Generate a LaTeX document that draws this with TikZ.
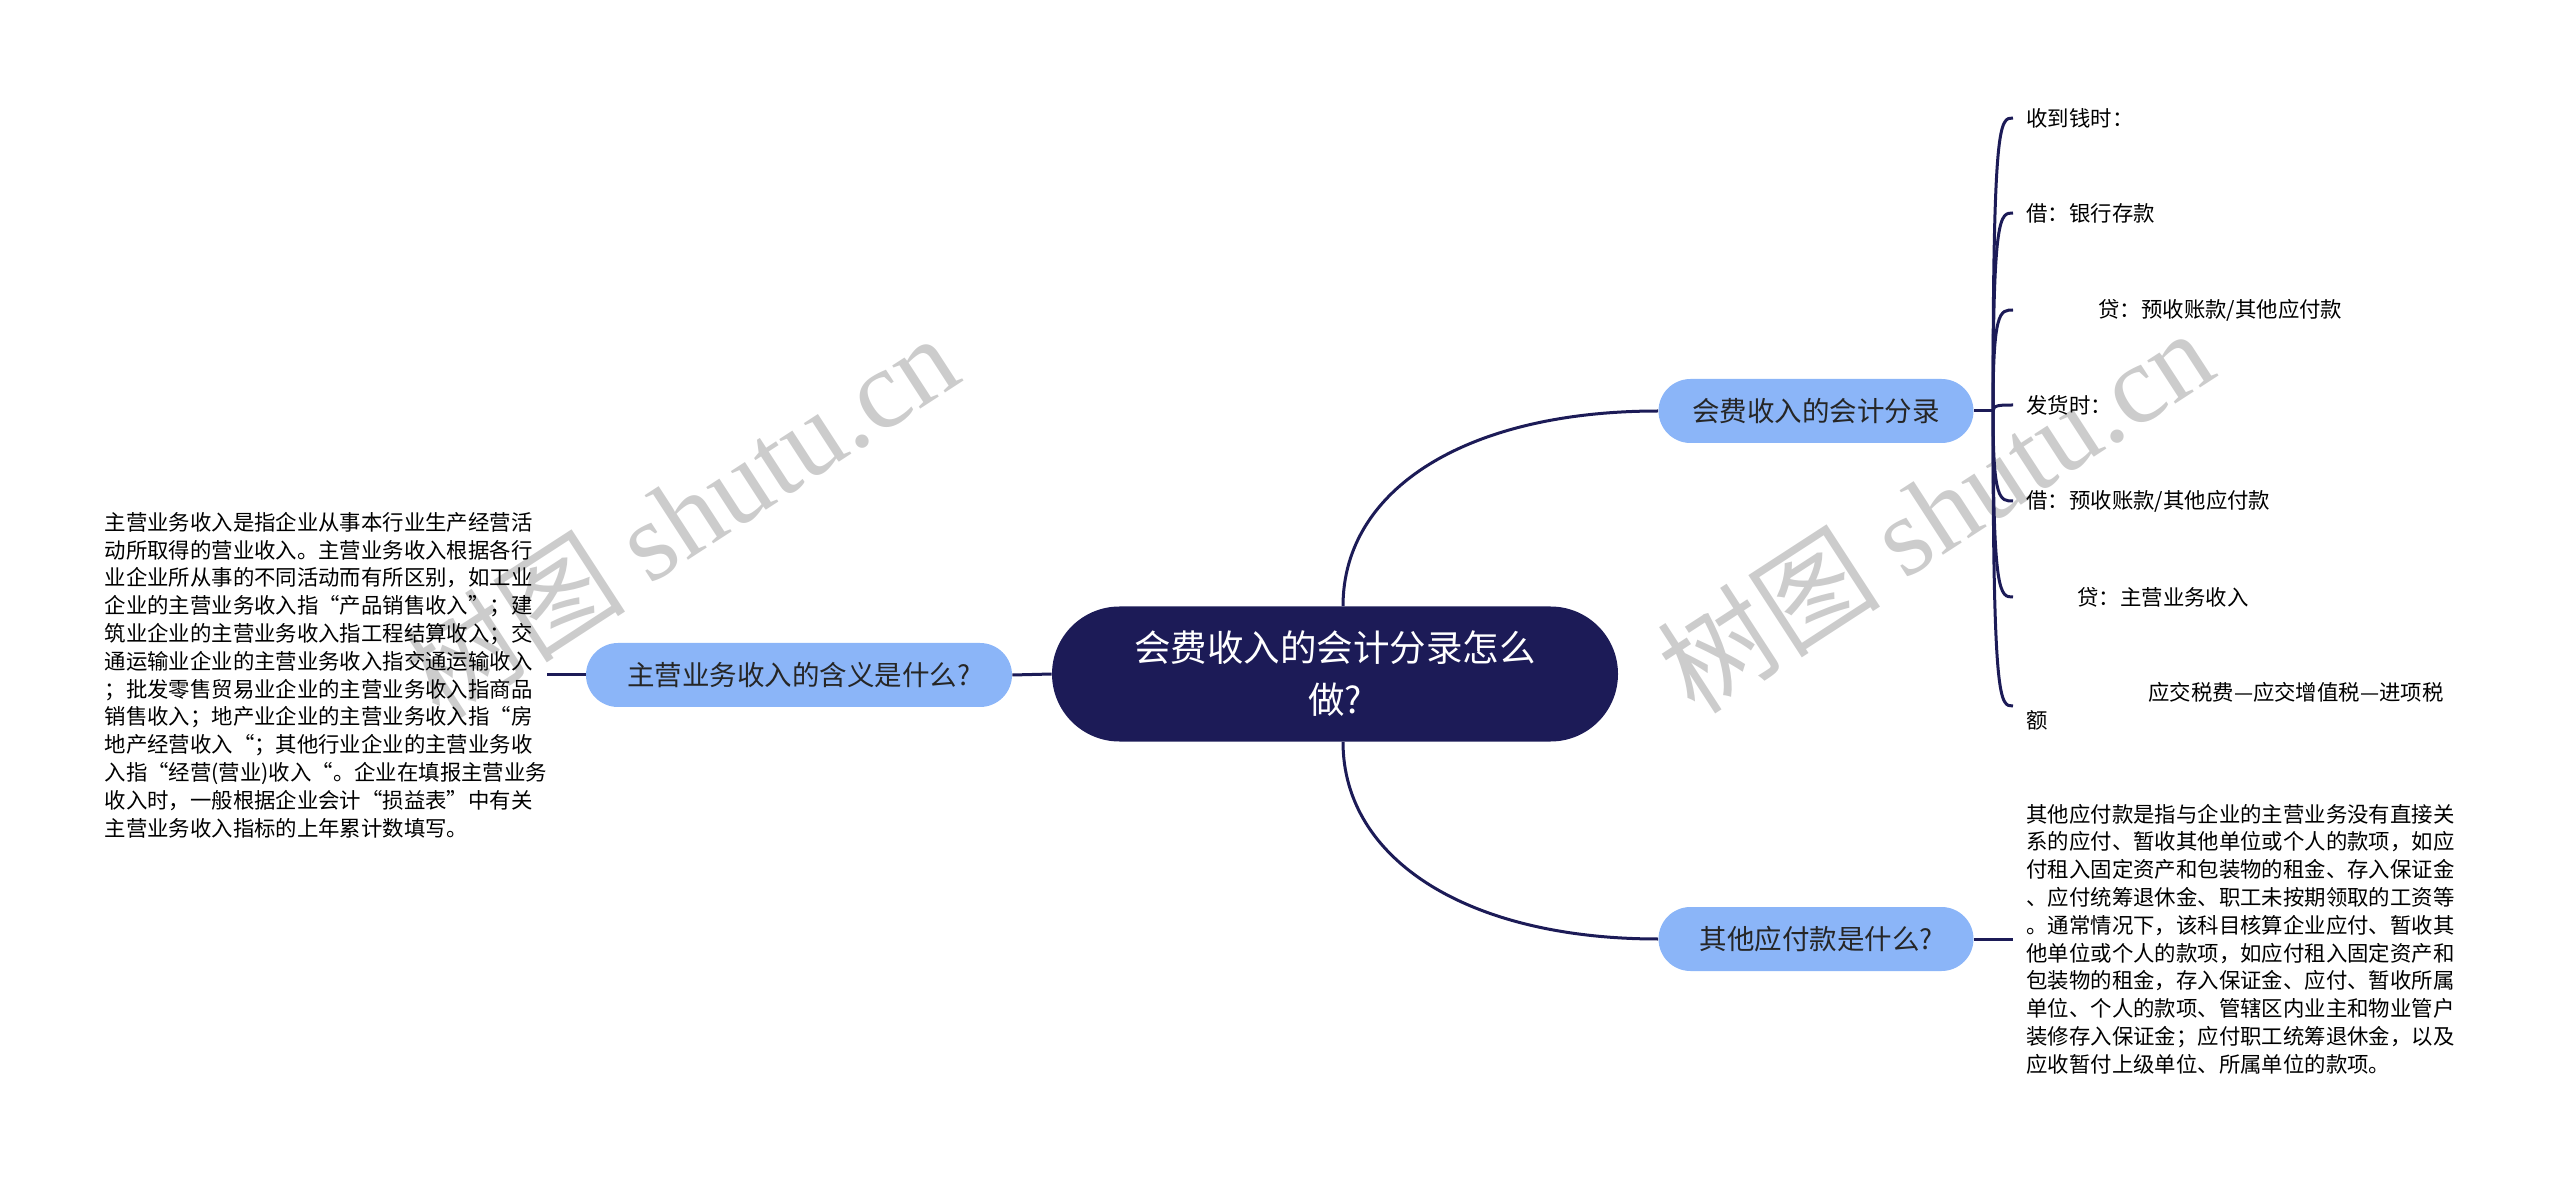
\documentclass[tikz,border=0pt]{standalone}
\usepackage{fontspec}
\setmainfont{Noto Sans CJK SC}
\newfontfamily\markfont{Liberation Serif}

\definecolor{navy}{HTML}{1C1B57}
\definecolor{topicblue}{HTML}{8BB5F8}

\begin{document}
\begin{tikzpicture}[x=0.5pt, y=-0.5pt]
\useasboundingbox (0, 0) rectangle (2560, 1181);

% watermark
\begin{scope}[every node/.style={rotate=33, text=black!20, font={\fontsize{56}{56}\selectfont}}]
    \node (mark1) at (680, 515) {树图 {\markfont shutu.cn}};
    \node (mark2) at (1935, 510) {树图 {\markfont shutu.cn}};
\end{scope}

\begin{scope}[topic/.style={shape=rectangle, rounded corners=16pt, fill=topicblue, minimum height=32pt, inner sep=0pt, text=black!85, font={\fontsize{13.75}{16}\selectfont}},
              note/.style={align=left, text width=214pt, inner xsep=6.5pt, font={\fontsize{10.7}{13.9}\selectfont}},
              leaf/.style={align=left, inner xsep=6.5pt, anchor=west, font={\fontsize{10.7}{13.9}\selectfont}}]
    \node (hub) at (1335, 674) [shape=rectangle, rounded corners=33.75pt, fill=navy, minimum width=283pt, minimum height=67.5pt, text=white, align=center, font={\fontsize{18.25}{26}\selectfont}] {会费收入的会计分录怎么\\做?};

    \node (meaning) at (799, 675) [topic, minimum width=213pt] {主营业务收入的含义是什么?};
    \node (entry) at (1816, 411) [topic, minimum width=157.5pt] {会费收入的会计分录};
    \node (payable) at (1816, 939) [topic, minimum width=157.5pt] {其他应付款是什么?};

    \node (meaningtext) at (547, 675) [note, anchor=east, inner xsep=7pt] {主营业务收入是指企业从事本行业生产经营活\\动所取得的营业收入。主营业务收入根据各行\\业企业所从事的不同活动而有所区别，如工业\\企业的主营业务收入指“产品销售收入”；建\\筑业企业的主营业务收入指工程结算收入；交\\通运输业企业的主营业务收入指交通运输收入\\；批发零售贸易业企业的主营业务收入指商品\\销售收入；地产业企业的主营业务收入指“房\\地产经营收入“；其他行业企业的主营业务收\\入指“经营(营业)收入“。企业在填报主营业务\\收入时，一般根据企业会计“损益表”中有关\\主营业务收入指标的上年累计数填写。};

    \node (payabletext) at (2013, 939) [note, anchor=west] {其他应付款是指与企业的主营业务没有直接关\\系的应付、暂收其他单位或个人的款项，如应\\付租入固定资产和包装物的租金、存入保证金\\、应付统筹退休金、职工未按期领取的工资等\\。通常情况下，该科目核算企业应付、暂收其\\他单位或个人的款项，如应付租入固定资产和\\包装物的租金，存入保证金、应付、暂收所属\\单位、个人的款项、管辖区内业主和物业管户\\装修存入保证金；应付职工统筹退休金，以及\\应收暂付上级单位、所属单位的款项。};

    \node (leaf1) at (2013, 118) [leaf] {收到钱时：};
    \node (leaf2) at (2013, 213) [leaf] {借：银行存款};
    \node (leaf3) at (2013, 310) [leaf] {\hspace*{36pt}贷：预收账款/其他应付款};
    \node (leaf4) at (2013, 405) [leaf] {发货时：};
    \node (leaf5) at (2013, 501) [leaf] {借：预收账款/其他应付款};
    \node (leaf6) at (2013, 597) [leaf] {\hspace*{25.5pt}贷：主营业务收入};
    \node (leaf7) at (2013, 706) [leaf] {\hspace*{61pt}应交税费—应交增值税—进项税\\额};
\end{scope}

\coordinate (fork) at (1993, 411);

\begin{scope}[link/.style={draw=navy, line width=1.5pt}]
    \draw [link] (hub.west) -- (meaning.east);
    \draw [link] (meaning.west) -- (meaningtext.east);
    \draw [link] ([xshift=4pt]hub.north) .. controls +(0, -118) and +(-190, 0) .. (entry.west);
    \draw [link] ([xshift=4pt]hub.south) .. controls +(0, 118) and +(-190, 0) .. (payable.west);
    \draw [link] (payable.east) -- (payabletext.west);
    \draw [link] (entry.east) -- (fork);
    \foreach \n in {1,...,7}
        \draw [link] (fork) .. controls (fork |- leaf\n.west) and ([xshift=-6.5pt]leaf\n.west) .. (leaf\n.west);
\end{scope}
\end{tikzpicture}
\end{document}
